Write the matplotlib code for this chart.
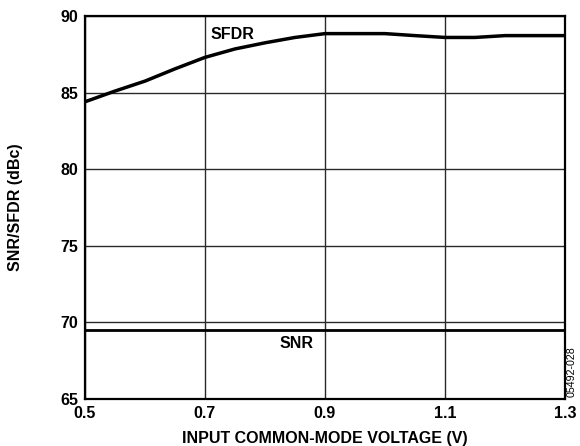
import matplotlib
matplotlib.use("Agg")
import matplotlib.pyplot as plt

plt.rcParams["font.family"] = ["Liberation Sans", "DejaVu Sans"]
plt.rcParams["font.weight"] = "bold"

# SFDR vs input common-mode voltage
voltage = [0.5, 0.55, 0.6, 0.65, 0.7, 0.75, 0.8, 0.85, 0.9, 0.95, 1.0,
           1.05, 1.1, 1.15, 1.2, 1.25, 1.3]
sfdr = [84.4, 85.1, 85.75, 86.55, 87.3, 87.85, 88.25, 88.6, 88.85, 88.85,
        88.85, 88.72, 88.6, 88.6, 88.72, 88.72, 88.72]
snr_voltage = [0.5, 1.3]
snr = [69.5, 69.5]

x_ticks = [0.5, 0.7, 0.9, 1.1, 1.3]
y_ticks = [65, 70, 75, 80, 85, 90]

fig = plt.figure(figsize=(5.8, 4.46), dpi=100)
ax = fig.add_axes([85 / 580, 47 / 446, 480 / 580, 383 / 446])

ax.plot(voltage, sfdr, color="black", linewidth=2.5, zorder=3)
ax.plot(snr_voltage, snr, color="black", linewidth=2, zorder=3)

ax.set_xlim(0.5, 1.3)
ax.set_ylim(65, 90)
ax.set_xticks(x_ticks)
ax.set_xticklabels([f"{t:.1f}" for t in x_ticks])
ax.set_yticks(y_ticks)
ax.grid(True, color="#2a2a2a", linewidth=1)
ax.tick_params(length=0, labelsize=11.5, pad=5)
for spine in ax.spines.values():
    spine.set_linewidth(1.6)

ax.text(0.71, 88.8, "SFDR", fontsize=11.5, fontweight="bold", va="center")
ax.text(0.825, 68.65, "SNR", fontsize=11.5, fontweight="bold", va="center")

ax.set_xlabel("INPUT COMMON-MODE VOLTAGE (V)", fontsize=11.5, fontweight="bold",
              labelpad=7)
ax.set_ylabel("SNR/SFDR (dBc)", fontsize=11.5, fontweight="bold", labelpad=27)

fig.text(572 / 580, 1 - 372 / 446, "05492-028", rotation=90, fontsize=7.7,
         fontweight="normal", ha="center", va="center")

fig.savefig("out.png", dpi=100)
